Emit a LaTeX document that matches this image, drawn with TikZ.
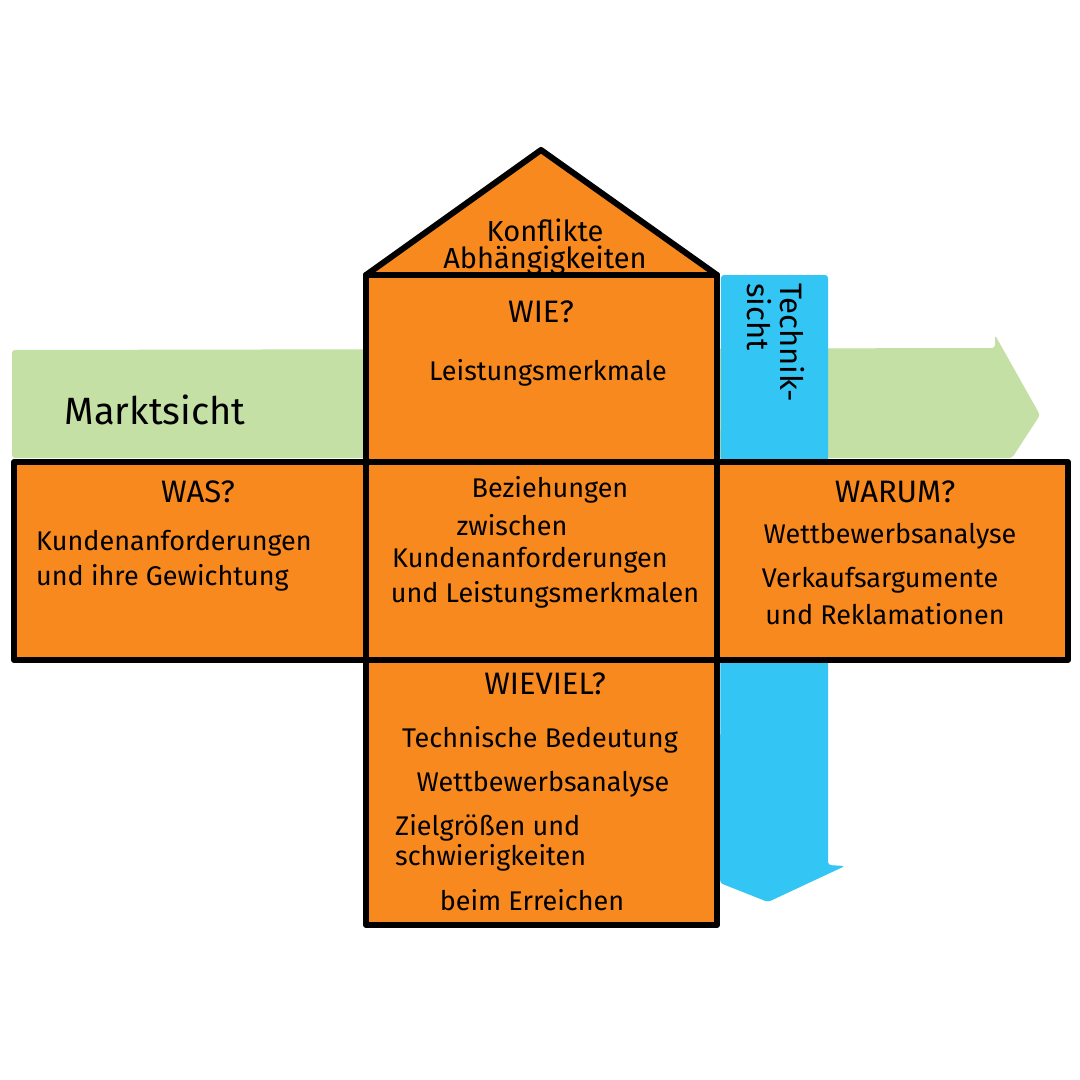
\documentclass[tikz,border=0pt]{standalone}
\usepackage{fontspec}
\setmainfont{Fira Sans}
\definecolor{hqorange}{HTML}{F7891E}
\definecolor{hqgreen}{HTML}{C4E0A4}
\definecolor{hqblue}{HTML}{33C6F4}
\begin{document}
\begin{tikzpicture}[x=1pt,y=-1pt,
  box/.style={fill=hqorange,draw=black,line width=6pt,line join=round},
  band/.style={rounded corners=3pt},
  txt/.style={font=\fontsize{27}{30}\selectfont,inner sep=0pt},
  head/.style={font=\fontsize{31}{34}\selectfont,inner sep=0pt}]
\useasboundingbox (0,0) rectangle (1080,1080);
\fill[white] (0,0) rectangle (1080,1080);
% green market arrow
\fill[hqgreen,band] (12,350) -- (995,348) -- (995,335) -- (1040,415) -- (1012,458) -- (12,458) -- cycle;
% blue technique arrow
\fill[hqblue,band] (721,275) -- (828,275) -- (828,865) -- (845,866) -- (768,902) -- (720,883) -- cycle;
% roof and boxes
\path[box] (366,275) -- (541,150) -- (717,275) -- cycle;
\path[box] (366,275) rectangle (717,462);
\path[box] (14,462) rectangle (366,660);
\path[box] (366,462) rectangle (717,660);
\path[box] (717,462) rectangle (1068,660);
\path[box] (366,660) rectangle (717,925);
% texts
\node[txt,font=\fontsize{29}{32}\selectfont] (k1) at (545,230) {Konflikte};
\node[txt,font=\fontsize{29}{32}\selectfont] (k2) at (545,260) {Abhängigkeiten};
\node[head] (wie) at (541,312) {WIE?};
\node[txt] (lm) at (548,373) {Leistungsmerkmale};
\node[txt,font=\fontsize{38}{40}\selectfont] (markt) at (155,410) {Marktsicht};
\node[txt,font=\fontsize{31}{33}\selectfont,rotate=-90,align=left,anchor=north west] (tech) at (805,283) {Technik-\\sicht};
\node[head] (was) at (198,492) {WAS?};
\node[txt,anchor=west] (w1) at (36,543) {Kundenanforderungen};
\node[txt,anchor=west] (w2) at (36,578) {und ihre Gewichtung};
\node[txt] (b1) at (550,490) {Beziehungen};
\node[txt] (b2) at (512,525) {zwischen};
\node[txt] (b3) at (530,560) {Kundenanforderungen};
\node[txt] (b4) at (545,595) {und Leistungsmerkmalen};
\node[head] (warum) at (895,492) {WARUM?};
\node[txt] (r1) at (890,536) {Wettbewerbsanalyse};
\node[txt] (r2) at (880,580) {Verkaufsargumente};
\node[txt] (r3) at (885,614) {und Reklamationen};
\node[head] (wieviel) at (545,684) {WIEVIEL?};
\node[txt] (v1) at (540,740) {Technische Bedeutung};
\node[txt] (v2) at (543,784) {Wettbewerbsanalyse};
\node[txt,anchor=west] (v3) at (395,828) {Zielgrößen und};
\node[txt,anchor=west] (v4) at (395,858) {schwierigkeiten};
\node[txt] (v5) at (532,900) {beim Erreichen};
\end{tikzpicture}
\end{document}
